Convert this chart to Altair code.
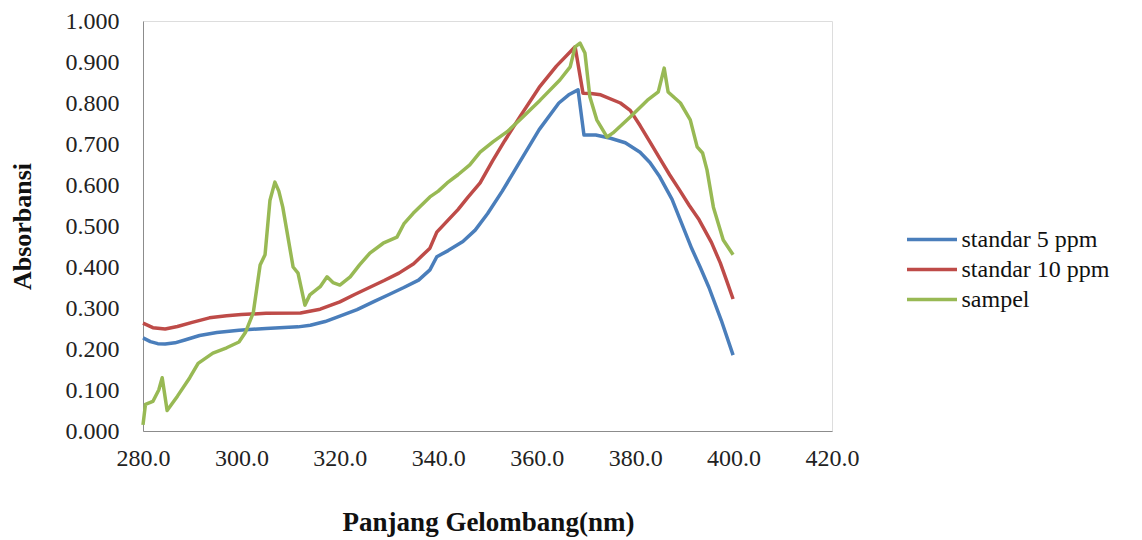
import altair as alt
import pandas as pd

series_names = ["standar 5 ppm", "standar 10 ppm", "sampel"]
series_colors = ["#4A7EBB", "#BE4B48", "#98B954"]

blue_nm = [280.0, 281.5, 283.0, 284.5, 286.5, 288.5, 291.5, 295.0, 299.5, 305.0, 311.5, 314.0, 317.0, 320.0,
           323.5, 327.0, 330.0, 333.0, 336.0, 338.3, 339.7, 342.0, 345.0, 347.5, 350.0, 353.0, 356.5, 360.5,
           364.5, 366.5, 368.4, 369.6, 372.0, 375.0, 378.0, 381.0, 383.0, 385.0, 387.5, 389.0, 391.5, 393.2,
           395.0, 397.5, 399.9]
blue_abs = [0.227, 0.218, 0.213, 0.212, 0.215, 0.222, 0.233, 0.240, 0.246, 0.250, 0.254, 0.258, 0.267, 0.280,
            0.296, 0.316, 0.333, 0.350, 0.368, 0.393, 0.425, 0.440, 0.462, 0.490, 0.530, 0.585, 0.655, 0.735,
            0.800, 0.820, 0.832, 0.722, 0.722, 0.714, 0.703, 0.680, 0.655, 0.620, 0.565, 0.520, 0.445, 0.400,
            0.350, 0.270, 0.185]

red_nm = [280.0, 282.0, 284.5, 287.0, 290.0, 293.5, 297.0, 300.0, 305.0, 312.0, 316.0, 320.0, 323.0, 326.0,
          329.0, 332.0, 335.0, 338.3, 339.7, 341.8, 344.0, 346.0, 348.5, 351.0, 353.5, 356.5, 360.5, 364.0,
          367.8, 369.4, 371.0, 373.0, 377.0, 379.0, 381.0, 383.0, 385.0, 387.0, 389.0, 391.0, 393.0, 395.5,
          397.3, 398.5, 399.9]
red_abs = [0.263, 0.252, 0.249, 0.255, 0.265, 0.276, 0.281, 0.284, 0.287, 0.288, 0.297, 0.315, 0.333, 0.350,
           0.367, 0.385, 0.408, 0.446, 0.485, 0.512, 0.540, 0.570, 0.605, 0.658, 0.708, 0.765, 0.838, 0.890,
           0.937, 0.824, 0.823, 0.820, 0.800, 0.782, 0.745, 0.705, 0.665, 0.625, 0.588, 0.550, 0.515, 0.460,
           0.410, 0.370, 0.322]

green_nm = [280.0, 280.5, 282.0, 283.2, 283.9, 284.9, 287.0, 289.5, 291.2, 294.2, 297.0, 299.5, 300.8, 302.4,
            303.8, 304.8, 305.8, 306.8, 307.6, 308.4, 310.5, 311.5, 312.9, 313.9, 316.0, 317.4, 318.6, 320.0,
            322.1, 324.0, 326.1, 328.8, 331.6, 333.0, 334.9, 338.3, 340.0, 341.8, 344.0, 346.4, 348.5, 351.1,
            354.0, 356.6, 360.7, 364.7, 366.8, 367.8, 368.8, 369.8, 370.8, 372.2, 374.3, 375.5, 379.0, 382.5,
            384.7, 385.9, 386.7, 389.2, 391.2, 392.6, 393.7, 394.6, 395.9, 397.9, 399.9]
green_abs = [0.015, 0.065, 0.072, 0.100, 0.130, 0.050, 0.085, 0.130, 0.165, 0.190, 0.203, 0.217, 0.240, 0.288,
             0.405, 0.430, 0.563, 0.607, 0.585, 0.546, 0.400, 0.385, 0.307, 0.332, 0.352, 0.376, 0.362, 0.356,
             0.376, 0.405, 0.434, 0.458, 0.473, 0.505, 0.531, 0.571, 0.585, 0.605, 0.625, 0.649, 0.680, 0.705,
             0.730, 0.759, 0.807, 0.856, 0.888, 0.937, 0.946, 0.922, 0.815, 0.759, 0.717, 0.727, 0.766, 0.807,
             0.827, 0.885, 0.827, 0.800, 0.759, 0.693, 0.678, 0.637, 0.546, 0.466, 0.430]

x_ticks = [280, 300, 320, 340, 360, 380, 400, 420]
y_ticks = [0.0, 0.1, 0.2, 0.3, 0.4, 0.5, 0.6, 0.7, 0.8, 0.9, 1.0]

rows = []
for name, xs, ys in zip(series_names, [blue_nm, red_nm, green_nm], [blue_abs, red_abs, green_abs]):
    for i, (xv, yv) in enumerate(zip(xs, ys)):
        rows.append({"series": name, "nm": xv, "abs": yv, "idx": i})
df = pd.DataFrame(rows)

FONT = "Liberation Serif, Times New Roman, DejaVu Serif, serif"

chart = alt.Chart(df).mark_line(strokeWidth=3.5, strokeJoin="round").encode(
    x=alt.X("nm:Q",
            scale=alt.Scale(domain=[280, 420], nice=False, zero=False),
            axis=alt.Axis(values=x_ticks, format=".1f", title="Panjang Gelombang(nm)",
                          grid=False, ticks=False, domainColor="#8C8C8C", domainWidth=1,
                          labelFont=FONT, labelFontSize=24, labelColor="#222222", labelPadding=15,
                          titleFont=FONT, titleFontSize=27, titleFontWeight="bold", titleColor="#111111",
                          titleX=345, titleY=91, titleBaseline="middle", titleAlign="center",
                          labelFlush=False)),
    y=alt.Y("abs:Q",
            scale=alt.Scale(domain=[0, 1], nice=False),
            axis=alt.Axis(values=y_ticks, format=".3f", title="Absorbansi",
                          grid=False, ticks=False, domainColor="#8C8C8C", domainWidth=1,
                          labelFont=FONT, labelFontSize=24, labelColor="#222222", labelPadding=24,
                          titleFont=FONT, titleFontSize=26, titleFontWeight="bold", titleColor="#111111",
                          titleAngle=-90, titleX=-121, titleY=205, titleBaseline="middle",
                          titleAlign="center", labelFlush=False)),
    color=alt.Color("series:N",
                    scale=alt.Scale(domain=series_names, range=series_colors),
                    legend=alt.Legend(title=None, orient="none", legendX=774.5, legendY=204,
                                      symbolType="M-2,0L2,0", symbolSize=625, symbolStrokeWidth=3.5,
                                      labelFont=FONT, labelFontSize=24, labelColor="#111111",
                                      labelOffset=15, rowPadding=3, padding=0)),
    order="idx:Q",
).properties(
    width=689, height=410,
    autosize=alt.AutoSizeParams(type="none"),
    padding={"left": 135, "top": 13, "right": 300, "bottom": 108},
).configure_view(stroke=None).configure(background="white", font=FONT)

chart.save("out.html", embed_options={"renderer": "svg", "actions": False})
